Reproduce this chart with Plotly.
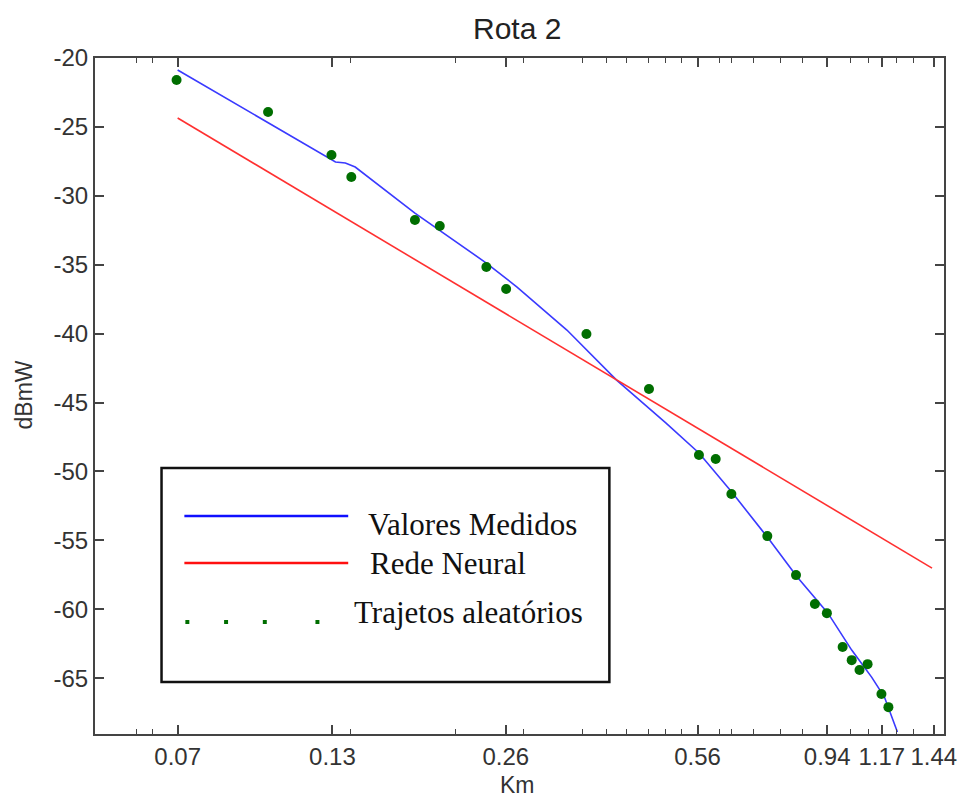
import math
import plotly.graph_objects as go

# ---- data ----
medidos_km = [0.07, 0.1316, 0.1369, 0.1424, 0.1808, 0.2233, 0.2406, 0.272, 0.332, 0.405,
              0.4936, 0.563, 0.644, 0.740, 0.834, 0.943, 1.037, 1.123, 1.182, 1.245]
medidos_dbm = [-20.87, -27.55, -27.62, -27.91, -31.25, -33.93, -34.88, -36.62, -39.74, -43.37,
               -46.49, -48.66, -51.57, -54.76, -57.66, -60.28, -62.96, -64.92, -66.37, -68.91]

rede_km = [0.07, 1.43]
rede_dbm = [-24.35, -57.01]

trajetos_km = [0.0697, 0.1005, 0.1295, 0.1402, 0.1808, 0.1997, 0.2406, 0.2604, 0.359, 0.461,
               0.563, 0.602, 0.641, 0.740, 0.830, 0.895, 0.939, 1.000, 1.037, 1.070,
               1.105, 1.168, 1.201]
trajetos_dbm = [-21.6, -23.92, -27.04, -28.64, -31.76, -32.19, -35.17, -36.76, -40.03, -44.02,
                -48.81, -49.10, -51.64, -54.69, -57.52, -59.62, -60.28, -62.74, -63.69, -64.41,
                -63.98, -66.15, -67.10]

x_tickvals = [0.07, 0.13, 0.26, 0.56, 0.94, 1.17, 1.44]
x_ticktext = ["0.07", "0.13", "0.26", "0.56", "0.94", "1.17", "1.44"]
x_minorvals = [0.0593, 0.0633, 0.1397, 0.2127, 0.2794, 0.3537, 0.3889, 0.4209, 0.4596, 0.4917,
               0.5258, 0.611, 0.641, 0.70, 0.781, 0.853, 1.03, 1.110, 1.238, 1.327]
y_tickvals = [-20, -25, -30, -35, -40, -45, -50, -55, -60, -65]
y_ticktext = ["-20", "-25", "-30", "-35", "-40", "-45", "-50", "-55", "-60", "-65"]

legend_labels = ["Valores Medidos", "Rede Neural", "Trajetos aleatórios"]

BLUE = "#3a3aff"
RED = "#ff3030"
GREEN = "#006e00"
AXC = "#444444"
SANS = "Arial, Liberation Sans, sans-serif"
TICKFONT = dict(family=SANS, size=24, color="#333333")

fig = go.Figure()
fig.add_trace(go.Scatter(x=medidos_km, y=medidos_dbm, mode="lines",
                         line=dict(color=BLUE, width=1.6), name=legend_labels[0]))
fig.add_trace(go.Scatter(x=rede_km, y=rede_dbm, mode="lines",
                         line=dict(color=RED, width=1.6), name=legend_labels[1]))
fig.add_trace(go.Scatter(x=trajetos_km, y=trajetos_dbm, mode="markers",
                         marker=dict(color=GREEN, size=10), name=legend_labels[2]))
# invisible helper trace so the mirrored top axis (with its minor ticks) is drawn
fig.add_trace(go.Scatter(x=[x_tickvals[0]], y=[y_tickvals[0]], xaxis="x2", mode="markers",
                         marker=dict(opacity=0, size=1), hoverinfo="skip"))

xrange = [math.log10(0.0503), math.log10(1.50)]
common_x = dict(type="log", range=xrange, tickmode="array", tickvals=x_tickvals,
                ticks="inside", ticklen=9, tickwidth=1.5, tickcolor=AXC,
                minor=dict(tickmode="array", tickvals=x_minorvals, ticks="inside",
                           ticklen=5, tickwidth=1, tickcolor=AXC),
                showgrid=False, zeroline=False)
fig.update_layout(
    xaxis=dict(**common_x, ticktext=x_ticktext, showline=True, linecolor=AXC, linewidth=2,
               mirror=True, tickfont=TICKFONT, tickangle=0),
    xaxis2=dict(**common_x, overlaying="x", side="top", showticklabels=False,
                showline=False),
    yaxis=dict(range=[-69.05, -20], tickmode="array", tickvals=y_tickvals, ticktext=y_ticktext,
               ticks="inside", ticklen=9, tickwidth=1.5, tickcolor=AXC,
               showline=True, linecolor=AXC, linewidth=2, mirror="ticks",
               showgrid=False, zeroline=False, tickfont=TICKFONT),
)

# ---- hand-drawn legend (paper coordinates; plot area is at 95..950 x 58..734 px) ----
W, H, L, T = 855.0, 676.0, 95.0, 58.0
def px(x):
    return (x - L) / W
def py(y):
    return 1 - (y - T) / H

shapes = [
    dict(type="rect", xref="paper", yref="paper", x0=px(162), x1=px(613), y0=py(682), y1=py(468),
         line=dict(color="#111111", width=2.5), fillcolor="white"),
    dict(type="line", xref="paper", yref="paper", x0=px(185), x1=px(350), y0=py(516), y1=py(516),
         line=dict(color="#1010ff", width=2.5)),
    dict(type="line", xref="paper", yref="paper", x0=px(185), x1=px(350), y0=py(563), y1=py(563),
         line=dict(color="#ff1010", width=2.5)),
]
for dx in [188, 227, 266, 319]:
    shapes.append(dict(type="rect", xref="paper", yref="paper",
                       x0=px(dx - 2), x1=px(dx + 2), y0=py(624), y1=py(620),
                       line=dict(width=0), fillcolor=GREEN))
fig.update_layout(shapes=shapes)

SERIF = dict(family="Liberation Serif, Times New Roman, serif", size=31, color="#111111")
ann = [
    dict(text=legend_labels[0], x=px(368), y=py(524), xanchor="left", yanchor="middle", font=SERIF),
    dict(text=legend_labels[1], x=px(370), y=py(563), xanchor="left", yanchor="middle", font=SERIF),
    dict(text=legend_labels[2], x=px(354), y=py(612), xanchor="left", yanchor="middle", font=SERIF),
    dict(text="Km", x=px(520), y=py(785), xanchor="center", yanchor="middle",
         font=dict(family=SANS, size=23, color="#333333")),
    dict(text="dBmW", x=px(24), y=py(395), xanchor="center", yanchor="middle", textangle=-90,
         font=dict(family=SANS, size=23, color="#333333")),
    dict(text="Rota 2", x=px(520), y=py(28), xanchor="center", yanchor="middle",
         font=dict(family=SANS, size=30, color="#222222")),
]
for a in ann:
    a.update(xref="paper", yref="paper", showarrow=False)
fig.update_layout(annotations=ann)

# the page body adds an 8px offset, so the figure is 8px smaller and margins shifted
fig.update_layout(width=961, height=793, margin=dict(l=87, r=19, t=50, b=67),
                  paper_bgcolor="white", plot_bgcolor="white", showlegend=False)

fig.write_html("out.html")
